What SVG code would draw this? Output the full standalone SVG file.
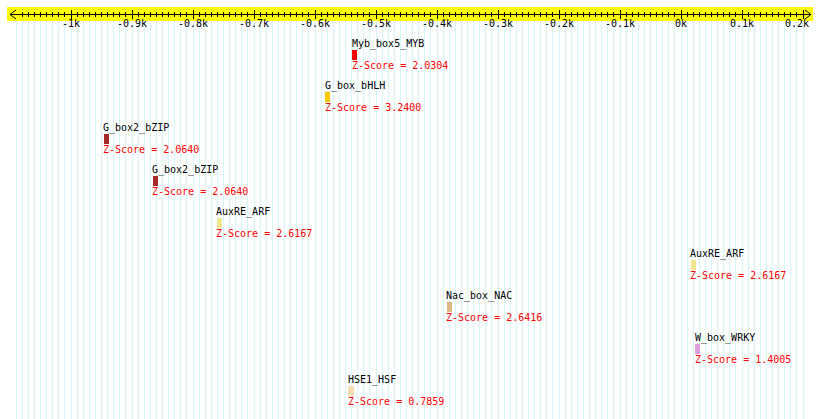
<svg xmlns="http://www.w3.org/2000/svg" width="820" height="419" viewBox="0 0 820 419">
<style>
.grid{stroke:#d6f4f9;stroke-width:1;fill:none;shape-rendering:crispEdges}
.axis{stroke:#000;stroke-width:1;fill:none}
.tick{stroke:#000;stroke-width:1;fill:none;shape-rendering:crispEdges}
text{font-family:"DejaVu Sans Mono","Liberation Mono",monospace;font-size:10px}
.al{text-anchor:middle;fill:#000}
.nm{fill:#000}
.zs{fill:#ff0000}
.bar{shape-rendering:crispEdges}
</style>
<rect x="0" y="0" width="820" height="419" fill="#ffffff"/>
<g id="grid">
<path class="grid" d="M16.1,21V419M22.2,21V419M28.3,21V419M34.4,21V419M40.5,21V419M46.6,21V419M52.7,21V419M58.8,21V419M64.9,21V419M71,21V419M77.1,21V419M83.2,21V419M89.3,21V419M95.4,21V419M101.5,21V419M107.6,21V419M113.7,21V419M119.8,21V419M125.9,21V419M132,21V419M138.1,21V419M144.2,21V419M150.3,21V419M156.4,21V419M162.5,21V419M168.6,21V419M174.7,21V419M180.8,21V419M186.9,21V419M193,21V419M199.1,21V419M205.2,21V419M211.3,21V419M217.4,21V419M223.5,21V419M229.6,21V419M235.7,21V419M241.8,21V419M247.9,21V419M254,21V419M260.1,21V419M266.2,21V419M272.3,21V419M278.4,21V419M284.5,21V419M290.6,21V419M296.7,21V419M302.8,21V419M308.9,21V419M315,21V419M321.1,21V419M327.2,21V419M333.3,21V419M339.4,21V419M345.5,21V419M351.6,21V419M357.7,21V419M363.8,21V419M369.9,21V419M376,21V419M382.1,21V419M388.2,21V419M394.3,21V419M400.4,21V419M406.5,21V419M412.6,21V419M418.7,21V419M424.8,21V419M430.9,21V419M437,21V419M443.1,21V419M449.2,21V419M455.3,21V419M461.4,21V419M467.5,21V419M473.6,21V419M479.7,21V419M485.8,21V419M491.9,21V419M498,21V419M504.1,21V419M510.2,21V419M516.3,21V419M522.4,21V419M528.5,21V419M534.6,21V419M540.7,21V419M546.8,21V419M552.9,21V419M559,21V419M565.1,21V419M571.2,21V419M577.3,21V419M583.4,21V419M589.5,21V419M595.6,21V419M601.7,21V419M607.8,21V419M613.9,21V419M620,21V419M626.1,21V419M632.2,21V419M638.3,21V419M644.4,21V419M650.5,21V419M656.6,21V419M662.7,21V419M668.8,21V419M674.9,21V419M681,21V419M687.1,21V419M693.2,21V419M699.3,21V419M705.4,21V419M711.5,21V419M717.6,21V419M723.7,21V419M729.8,21V419M735.9,21V419M742,21V419M748.1,21V419M754.2,21V419M760.3,21V419M766.4,21V419M772.5,21V419M778.6,21V419M784.7,21V419M790.8,21V419M796.9,21V419M803,21V419"/>
</g>
<g id="axis">
<rect x="7" y="7" width="806" height="14" fill="#ffff00"/>
<path class="axis" d="M10,14.5H811M16,10L10,14.5L16,19M805,10L811,14.5L805,19"/>
<path class="tick" d="M22.2,12v5M28.3,12v5M34.4,12v5M40.5,12v5M46.6,12v5M52.7,12v5M58.8,12v5M64.9,12v5M77.1,12v5M83.2,12v5M89.3,12v5M95.4,12v5M101.5,12v5M107.6,12v5M113.7,12v5M119.8,12v5M125.9,12v5M138.1,12v5M144.2,12v5M150.3,12v5M156.4,12v5M162.5,12v5M168.6,12v5M174.7,12v5M180.8,12v5M186.9,12v5M199.1,12v5M205.2,12v5M211.3,12v5M217.4,12v5M223.5,12v5M229.6,12v5M235.7,12v5M241.8,12v5M247.9,12v5M260.1,12v5M266.2,12v5M272.3,12v5M278.4,12v5M284.5,12v5M290.6,12v5M296.7,12v5M302.8,12v5M308.9,12v5M321.1,12v5M327.2,12v5M333.3,12v5M339.4,12v5M345.5,12v5M351.6,12v5M357.7,12v5M363.8,12v5M369.9,12v5M382.1,12v5M388.2,12v5M394.3,12v5M400.4,12v5M406.5,12v5M412.6,12v5M418.7,12v5M424.8,12v5M430.9,12v5M443.1,12v5M449.2,12v5M455.3,12v5M461.4,12v5M467.5,12v5M473.6,12v5M479.7,12v5M485.8,12v5M491.9,12v5M504.1,12v5M510.2,12v5M516.3,12v5M522.4,12v5M528.5,12v5M534.6,12v5M540.7,12v5M546.8,12v5M552.9,12v5M565.1,12v5M571.2,12v5M577.3,12v5M583.4,12v5M589.5,12v5M595.6,12v5M601.7,12v5M607.8,12v5M613.9,12v5M626.1,12v5M632.2,12v5M638.3,12v5M644.4,12v5M650.5,12v5M656.6,12v5M662.7,12v5M668.8,12v5M674.9,12v5M687.1,12v5M693.2,12v5M699.3,12v5M705.4,12v5M711.5,12v5M717.6,12v5M723.7,12v5M729.8,12v5M735.9,12v5M748.1,12v5M754.2,12v5M760.3,12v5M766.4,12v5M772.5,12v5M778.6,12v5M784.7,12v5M790.8,12v5M796.9,12v5M71,10v9M132,10v9M193,10v9M254,10v9M315,10v9M376,10v9M437,10v9M498,10v9M559,10v9M620,10v9M681,10v9M742,10v9M803,10v9"/>
<text class="al" x="71" y="27">-1k</text>
<text class="al" x="132" y="27">-0.9k</text>
<text class="al" x="193" y="27">-0.8k</text>
<text class="al" x="254" y="27">-0.7k</text>
<text class="al" x="315" y="27">-0.6k</text>
<text class="al" x="376" y="27">-0.5k</text>
<text class="al" x="437" y="27">-0.4k</text>
<text class="al" x="498" y="27">-0.3k</text>
<text class="al" x="559" y="27">-0.2k</text>
<text class="al" x="620" y="27">-0.1k</text>
<text class="al" x="681" y="27">0k</text>
<text class="al" x="742" y="27">0.1k</text>
<text x="809" y="27" style="text-anchor:end">0.2k</text>
</g>
<g id="m1"><text class="nm" x="352" y="47">Myb_box5_MYB</text><rect class="bar" x="352" y="50" width="5" height="10" fill="#ff0000"/><text class="zs" x="352" y="69">Z-Score = 2.0304</text></g>
<g id="m2"><text class="nm" x="325" y="89">G_box_bHLH</text><rect class="bar" x="325" y="92" width="5" height="10" fill="#fcc800"/><text class="zs" x="325" y="111">Z-Score = 3.2400</text></g>
<g id="m3"><text class="nm" x="103" y="131">G_box2_bZIP</text><rect class="bar" x="104" y="134" width="5" height="10" fill="#a52a2a"/><text class="zs" x="103" y="153">Z-Score = 2.0640</text></g>
<g id="m4"><text class="nm" x="152" y="173">G_box2_bZIP</text><rect class="bar" x="153" y="176" width="5" height="10" fill="#a52a2a"/><text class="zs" x="152" y="195">Z-Score = 2.0640</text></g>
<g id="m5"><text class="nm" x="216" y="215">AuxRE_ARF</text><rect class="bar" x="217" y="218" width="5" height="10" fill="#f0e68c"/><text class="zs" x="216" y="237">Z-Score = 2.6167</text></g>
<g id="m6"><text class="nm" x="690" y="257">AuxRE_ARF</text><rect class="bar" x="691" y="260" width="5" height="10" fill="#f0e68c"/><text class="zs" x="690" y="279">Z-Score = 2.6167</text></g>
<g id="m7"><text class="nm" x="446" y="299">Nac_box_NAC</text><rect class="bar" x="447" y="302" width="5" height="10" fill="#deb887"/><text class="zs" x="446" y="321">Z-Score = 2.6416</text></g>
<g id="m8"><text class="nm" x="695" y="341">W_box_WRKY</text><rect class="bar" x="695" y="344" width="5" height="10" fill="#dda0dd"/><text class="zs" x="695" y="363">Z-Score = 1.4005</text></g>
<g id="m9"><text class="nm" x="348" y="383">HSE1_HSF</text><rect class="bar" x="348" y="386" width="6" height="10" fill="#f5deb3"/><text class="zs" x="348" y="405">Z-Score = 0.7859</text></g>
</svg>
